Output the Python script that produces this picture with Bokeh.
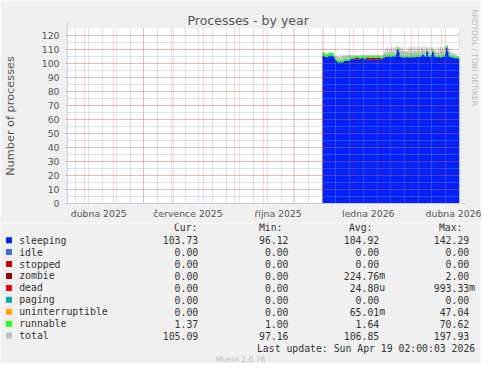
from datetime import datetime, timedelta
import numpy as np
from bokeh.plotting import figure
from bokeh.models import (Range1d, FixedTicker, SingleIntervalTicker, LinearAxis, Arrow, NormalHead)
from bokeh.core.properties import value
from bokeh.embed import file_html
from bokeh.resources import INLINE

# ---------------- data ----------------
END = datetime(2026, 4, 19, 2, 0, 3)
START = END - timedelta(days=400)
DATA_START = datetime(2025, 11, 30, 2, 0, 3)

sleeping = [
    105.7, 105.8, 105.6,
    104.6, 104.4, 104.8, 105.4,
    105.8, 105.9, 105.7, 105.8, 105.2,
    103.8, 102.6, 101.8, 101.2,
    100.9, 100.8, 101.0, 100.7, 100.9, 101.4,
    101.9, 102.2, 102.1, 102.3, 102.0, 102.4, 102.9,
    103.2, 103.4, 103.3, 103.5, 103.2,
    102.8, 102.7, 102.9, 102.8, 103.4,
    103.8, 103.9, 103.7, 103.8, 103.2,
    102.7, 102.5, 102.6, 102.8, 102.6, 102.4, 102.6, 102.7, 102.5, 102.6, 102.8, 102.6, 102.5, 102.7, 102.6, 102.9, 103.3,
    103.8, 104.0, 104.4,
    104.6, 104.9, 105.1, 104.8, 105.3, 105.0, 104.7, 105.2, 105.4, 104.9, 105.6, 106.8,
    110.2, 110.6, 108.4,
    105.1, 104.6, 104.4, 104.5, 104.3, 104.6, 104.4, 104.5, 104.7, 104.3, 104.4, 104.6, 104.5, 104.4, 104.6, 104.5, 104.8,
    104.6, 104.9, 105.2, 104.7, 105.0, 105.8, 107.2, 106.1, 105.4, 104.9, 109.3, 108.6, 105.2, 104.8, 105.0, 106.3, 108.6, 107.8, 105.3, 104.9,
    104.5, 104.6, 104.4, 104.7, 104.5, 104.3, 104.6, 104.8, 105.2,
    107.4, 111.2, 111.6, 108.2, 105.3,
    104.8, 104.5, 104.6, 104.2, 104.0, 104.1, 103.9, 103.8, 103.7, 103.73,
]

zombie = [
    0.0, 0.0, 0.0, 0.0, 0.0, 0.0, 0.0, 0.0, 0.0, 0.0,
    0.0, 0.0, 0.0, 0.0, 0.0, 0.0, 0.0, 0.0, 0.0, 0.0,
    0.0, 0.0, 0.0, 0.0, 0.0, 0.0, 0.0, 0.0, 0.0, 0.0,
    0.0, 0.0, 0.0, 1.2, 1.1, 1.3, 1.2, 1.1, 0.0, 0.0,
    0.0, 0.0, 0.0, 0.0, 1.3, 1.4, 1.5, 1.4, 1.4, 1.3,
    1.4, 1.5, 1.4, 1.4, 1.3, 1.4, 1.5, 1.4, 1.3, 1.2,
    0.0, 0.0, 0.0, 0.0, 0.0, 0.0, 0.0, 0.0, 0.0, 0.0,
    0.0, 0.0, 0.0, 0.0, 0.0, 0.0, 0.0, 0.0, 0.0, 0.0,
    0.0, 0.0, 0.0, 0.0, 0.0, 0.0, 0.0, 0.0, 0.0, 0.0,
    0.0, 0.0, 0.0, 0.0, 0.0, 0.0, 0.0, 0.0, 0.0, 0.0,
    0.0, 0.0, 0.0, 0.0, 0.0, 0.0, 0.0, 0.0, 0.0, 0.0,
    0.0, 0.0, 0.0, 0.0, 0.0, 0.0, 0.0, 0.0, 0.0, 0.0,
    0.0, 0.0, 0.0, 0.0, 0.0, 0.0, 0.0, 0.0, 0.0, 0.0,
    0.0, 0.0, 0.0, 0.0, 0.0, 0.0, 0.0, 0.0, 0.0, 0.0,
]

runnable = [
    2.0, 2.1, 2.0, 1.9, 2.0, 2.1, 2.0, 2.0, 2.1, 2.0, 1.9, 1.8,
    1.7, 1.6, 1.6, 1.5, 1.6, 1.5, 1.6, 1.6, 1.5, 1.6, 1.5, 1.5, 1.6, 1.5, 1.5, 1.4, 1.5, 1.5, 1.4,
    1.4, 1.5, 1.4, 1.4, 1.4, 1.5, 1.4, 1.4, 1.4, 1.5, 1.4, 1.4, 1.4, 1.5, 1.4, 1.4, 1.4, 1.5, 1.4, 1.4,
    1.4, 1.5, 1.4, 1.4, 1.4, 1.5, 1.4, 1.4, 1.4, 1.5, 1.4, 1.5, 1.6,
    1.6, 1.5, 1.6, 1.5, 1.5, 1.6, 1.5, 1.4, 1.5, 1.5, 1.6, 1.5,
    1.5, 1.4, 1.5,
    1.5, 1.4, 1.4, 1.5, 1.4, 1.4, 1.5, 1.4, 1.4, 1.5, 1.4, 1.4, 1.5, 1.4, 1.4, 1.5, 1.4,
    1.4, 1.5, 1.4, 1.4, 1.5, 1.4, 1.4, 1.5, 1.4, 1.4, 1.5, 1.4, 1.4, 1.5, 1.4, 1.4, 1.5, 1.4, 1.4, 1.5,
    1.4, 1.4, 1.5, 1.4, 1.4, 1.5, 1.4, 1.4, 1.5,
    1.4, 1.5, 1.4, 1.4, 1.5,
    1.4, 1.4, 1.5, 1.4, 1.4, 1.4, 1.4, 1.4, 1.4, 1.37,
]

total = [
    108.0, 108.1, 107.9, 106.8, 106.6, 107.1, 107.6, 108.0, 108.2, 108.0, 108.0, 107.2,
    106.0, 105.4, 105.8, 104.6, 105.2, 103.9, 105.9, 104.1, 105.6, 106.1, 105.2, 106.3, 105.8, 106.0, 105.7, 106.2, 105.9, 106.0, 105.9,
    105.8, 106.0, 106.1, 105.9, 106.0, 106.0, 105.8, 105.9, 106.0, 106.1, 105.9, 106.0, 105.8,
    106.1, 106.0, 106.2, 106.3, 106.0, 106.1, 106.2, 106.0, 106.1, 106.2, 106.3, 106.1, 106.0, 106.2, 106.1, 106.3,
    105.9, 106.2, 106.8, 108.2,
    110.8, 107.4, 111.6, 108.2, 110.3, 107.9, 111.9, 109.0, 111.2, 108.1, 111.8, 110.4,
    112.1, 112.3, 111.0,
    111.4, 108.6, 111.9, 109.2, 108.3, 108.9, 107.8, 108.6, 111.5, 107.9, 112.1, 108.4, 111.3, 107.6, 111.8, 108.9, 111.6,
    108.2, 111.7, 107.9, 112.0, 108.8, 111.4, 112.2, 109.6, 111.8, 108.3, 111.9, 111.2, 108.7, 112.1, 107.9, 111.5, 111.8, 110.6, 108.9, 109.4,
    108.6, 107.4, 111.6, 108.1, 112.0, 108.7, 111.4, 109.0, 111.9,
    111.6, 113.0, 113.3, 111.2, 110.4,
    108.4, 107.1, 108.9, 106.8, 107.6, 106.2, 106.9, 105.8, 105.6, 105.1,
]

month_labels = ["dubna 2025", "července 2025", "října 2025", "ledna 2026", "dubna 2026"]
label_dates = [datetime(2025, 4, 16), datetime(2025, 7, 16), datetime(2025, 10, 16),
               datetime(2026, 1, 16), datetime(2026, 4, 16)]

legend_names = ["sleeping", "idle", "stopped", "zombie", "dead", "paging",
                "uninterruptible", "runnable", "total"]
legend_colors = ["#0022FF", "#4169E1", "#CC0000", "#990000", "#FF0000", "#00AAAA",
                 "#FFA500", "#22FF22", "#C0C0C0"]
col_headers = ["Cur:", "Min:", "Avg:", "Max:"]
cur_vals = ["103.73", "0.00", "0.00", "0.00", "0.00", "0.00", "0.00", "1.37", "105.09"]
min_vals = ["96.12", "0.00", "0.00", "0.00", "0.00", "0.00", "0.00", "1.00", "97.16"]
avg_vals = ["104.92", "0.00", "0.00", "224.76m", "24.80u", "0.00", "65.01m", "1.64", "106.85"]
max_vals = ["142.29", "0.00", "0.00", "2.00", "993.33m", "0.00", "47.04", "70.62", "197.93"]
last_update = "Last update: Sun Apr 19 02:00:03 2026"
footer = "Munin 2.0.76"
watermark = "RRDTOOL / TOBI OETIKER"


def ms(d):
    return (d - datetime(1970, 1, 1)).total_seconds() * 1000.0


DAY = 86400000.0

# layout constants (figure pixels)
W = 481
H1 = 223                 # chart part
H2 = 140                 # legend part
FL, FR, FT, FB = 58, 460, 28, 203

# ---------------- main chart ----------------
n = len(sleeping)
xs = [ms(DATA_START + timedelta(days=i)) for i in range(n)] + [ms(END)]
s = np.array(sleeping + [sleeping[-1]])
z = np.array(zombie + [zombie[-1]])
r = np.array(runnable + [runnable[-1]])
t = np.array(total + [total[-1]])
top1 = s
top2 = s + z
top3 = s + z + r
top4 = np.maximum(t, top3)

p = figure(width=W, height=H1, output_backend="svg", toolbar_location=None,
           x_range=Range1d(ms(START), ms(END)), y_range=Range1d(0, 125),
           min_border_left=FL, min_border_right=W - FR, min_border_top=FT,
           min_border_bottom=H1 - FB,
           background_fill_color="white", border_fill_color="#F0F0F0",
           outline_line_color=None)

p.varea_step(x=xs, y1=np.zeros(len(xs)), y2=top1, step_mode="after", fill_color="#0022FF")
p.varea_step(x=xs, y1=top1, y2=top2, step_mode="after", fill_color="#990000")
p.varea_step(x=xs, y1=top2, y2=top3, step_mode="after", fill_color="#22FF22")
p.varea_step(x=xs, y1=top3, y2=top4, step_mode="after", fill_color="#BBBBBB")

# grid
month_starts = []
d = datetime(2025, 4, 1)
while d <= END:
    month_starts.append(ms(d))
    d = datetime(d.year + (d.month // 12), d.month % 12 + 1, 1)
biweekly = []
d = datetime(2025, 3, 23)
while d <= END:
    biweekly.append(ms(d))
    d = d + timedelta(days=14)

p.xgrid.ticker = FixedTicker(ticks=month_starts, minor_ticks=biweekly)
p.ygrid.ticker = SingleIntervalTicker(interval=10, num_minor_ticks=2)
for g in (p.xgrid, p.ygrid):
    g.grid_line_color = "#FF0000"
    g.grid_line_alpha = 0.35
    g.grid_line_dash = "1 1"
    g.minor_grid_line_color = "#A0A0A0"
    g.minor_grid_line_alpha = 0.6
    g.minor_grid_line_dash = "1 1"
    g.level = "annotation"

# axes
label_pos = [ms(dd) for dd in label_dates]
p.xaxis.ticker = FixedTicker(ticks=label_pos)
p.xaxis.major_label_overrides = {lp: lab for lp, lab in zip(label_pos, month_labels)}
p.xaxis.major_tick_line_color = None
p.xaxis.minor_tick_line_color = None
p.xaxis.major_tick_out = 0
p.xaxis.major_label_standoff = 4

p.yaxis.ticker = SingleIntervalTicker(interval=10, num_minor_ticks=2)
p.yaxis.major_tick_out = 2
p.yaxis.major_tick_in = 0
p.yaxis.major_tick_line_color = "#E8A0A0"
p.yaxis.minor_tick_line_color = None
p.yaxis.major_label_standoff = 4
p.yaxis.axis_label = "Number of processes"
p.yaxis.axis_label_text_font = "DejaVu Sans"
p.yaxis.axis_label_text_font_size = "11.3px"
p.yaxis.axis_label_text_font_style = "normal"
p.yaxis.axis_label_text_color = "#555555"
p.yaxis.axis_label_standoff = 22

for ax in (p.xaxis, p.yaxis):
    ax.axis_line_color = "#C8CCF0"
    ax.major_label_text_font = "DejaVu Sans"
    ax.major_label_text_font_size = "9.3px"
    ax.major_label_text_color = "#555555"

# watermark on the right side, as the label of an empty right axis;
# trailing no-break spaces push the visible text toward the top, as in rrdtool
wm = LinearAxis(ticker=FixedTicker(ticks=[]), axis_line_color=None,
                major_tick_line_color=None, minor_tick_line_color=None,
                major_label_text_font_size="0px",
                axis_label=watermark + "\u00a0" * 49,
                axis_label_text_font="DejaVu Sans", axis_label_text_font_size="7.5px",
                axis_label_text_font_style="normal", axis_label_text_color="#BBBBBB",
                axis_label_standoff=10, axis_label_align="center")
p.add_layout(wm, "right")

p.title.text = "Processes - by year"
p.title.align = "left"
p.title.offset = 120
p.title.standoff = 2
p.title.text_font = "DejaVu Sans"
p.title.text_font_size = "12.5px"
p.title.text_font_style = "normal"
p.title.text_color = "#555555"

head = NormalHead(size=6, fill_color="#C8CCF0", line_color="#C8CCF0")
p.add_layout(Arrow(end=head, x_start=ms(START), y_start=0, x_end=ms(START), y_end=129.5,
                   line_color="#C8CCF0", line_width=1))
head2 = NormalHead(size=6, fill_color="#C8CCF0", line_color="#C8CCF0")
p.add_layout(Arrow(end=head2, x_start=ms(START), y_start=0, x_end=ms(END) + 7 * DAY, y_end=0,
                   line_color="#C8CCF0", line_width=1))

# ---------------- legend block (separate figure below) ----------------
lg = figure(width=W, height=H2, output_backend="svg", toolbar_location=None,
            x_range=Range1d(0, W), y_range=Range1d(H1 + H2, H1),
            min_border=0, min_border_left=0, min_border_right=0, min_border_top=0,
            min_border_bottom=0, x_axis_type=None, y_axis_type=None,
            background_fill_color="#F0F0F0", border_fill_color="#F0F0F0",
            outline_line_color=None)
lg.xgrid.visible = False
lg.ygrid.visible = False

mono = value("DejaVu Sans Mono")
fs = "9.8px"
tc = "#333333"
row_y = [239.7 + 11.92 * k for k in range(len(legend_names))]
nrow = len(row_y)

lg.rect(x=[8.5] * nrow, y=row_y, width=6, height=6, fill_color=legend_colors, line_color=None)
lg.text(x=[18.7] * nrow, y=row_y, text=legend_names, text_font=mono,
        text_font_size=fs, text_baseline="middle", text_align="left", text_color=tc)
lg.text(x=[197, 282, 372, 462], y=[227] * 4, text=col_headers, text_font=mono,
        text_font_size=fs, text_baseline="middle", text_align="right", text_color=tc)

col_right = [197.7, 288.0, 378.7, 468.7]
for xr, vals in zip(col_right, [cur_vals, min_vals, avg_vals, max_vals]):
    nums = [v.rstrip("mu") for v in vals]
    sfx = [v[len(nu):] for v, nu in zip(vals, nums)]
    lg.text(x=[xr] * nrow, y=row_y, text=nums, text_font=mono, text_font_size=fs,
            text_baseline="middle", text_align="right", text_color=tc)
    lg.text(x=[xr] * nrow, y=row_y, text=sfx, text_font=mono, text_font_size=fs,
            text_baseline="middle", text_align="left", text_color=tc)

lg.text(x=[474.7], y=[347.7], text=[last_update], text_font=mono, text_font_size=fs,
        text_baseline="middle", text_align="right", text_color=tc)
lg.text(x=[240], y=[359], text=[footer], text_font=value("DejaVu Sans"),
        text_font_size="7.6px", text_baseline="middle", text_align="center",
        text_color="#BBBBBB")

open("out.html", "w").write(file_html([p, lg], INLINE))
